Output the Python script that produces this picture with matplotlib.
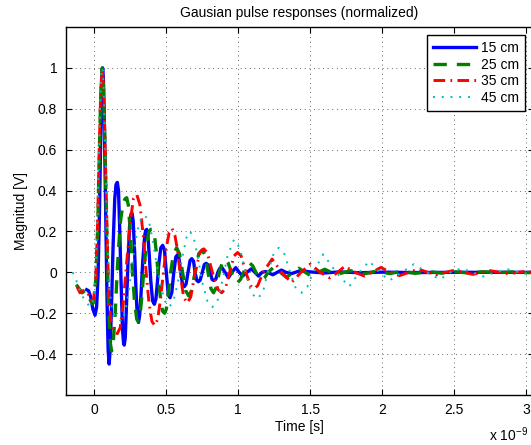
import matplotlib
matplotlib.use("Agg")
import matplotlib.pyplot as plt

plt.rcParams['font.family'] = ['Liberation Sans', 'DejaVu Sans']
plt.rcParams['mathtext.fontset'] = 'custom'
plt.rcParams['mathtext.rm'] = 'Liberation Sans'

# ---- data (time in units of 1e-9 s, normalized magnitude) ----
t_15 = [-0.053, -0.04, -0.025, -0.01, 0.005, 0.016, 0.026, 0.036, 0.046, 0.053, 0.058, 0.063, 0.07, 0.079,
        0.088, 0.096, 0.103, 0.11, 0.12, 0.13, 0.142, 0.151, 0.16, 0.168, 0.177, 0.186, 0.196, 0.203, 0.208,
        0.215, 0.224, 0.234, 0.246, 0.255, 0.262, 0.27, 0.28, 0.289, 0.299, 0.307, 0.315, 0.325, 0.336, 0.35,
        0.357, 0.364, 0.372, 0.382, 0.392, 0.405, 0.417, 0.428, 0.438, 0.448, 0.462, 0.475, 0.487, 0.5, 0.514,
        0.526, 0.538, 0.552, 0.566, 0.577, 0.588, 0.6, 0.613, 0.625, 0.637, 0.651, 0.665, 0.677, 0.689, 0.7,
        0.712, 0.723, 0.735, 0.75, 0.764, 0.777, 0.79, 0.805, 0.818, 0.831, 0.844, 0.858, 0.872, 0.885, 0.908,
        0.931, 0.956, 0.982, 1.006, 1.03, 1.06, 1.09, 1.115, 1.14, 1.165, 1.19, 1.215, 1.24, 1.27, 1.3, 1.33,
        1.37, 1.43, 1.5, 1.6, 1.7, 1.85, 2.0, 2.2, 2.5, 3.05]
v_15 = [-0.085, -0.09, -0.12, -0.18, -0.21, -0.17, -0.02, 0.3, 0.72, 0.95, 1.0, 0.95, 0.72, 0.3,
        -0.12, -0.38, -0.449, -0.38, -0.15, 0.12, 0.36, 0.43, 0.44, 0.4, 0.2, -0.05, -0.28, -0.345, -0.356,
        -0.32, -0.15, 0.05, 0.24, 0.285, 0.29, 0.25, 0.1, -0.08, -0.22, -0.245, -0.21, -0.1, 0.05, 0.18,
        0.205, 0.21, 0.18, 0.08, -0.04, -0.14, -0.156, -0.13, -0.05, 0.04, 0.12, 0.132, 0.11, 0.0, -0.11,
        -0.124, -0.1, 0.0, 0.075, 0.085, 0.07, 0.0, -0.06, -0.07, -0.058, 0.0, 0.058, 0.067, 0.055, 0.0,
        -0.04, -0.046, -0.038, 0.0, 0.038, 0.044, 0.036, 0.0, -0.035, -0.04, -0.033, 0.0, 0.02, 0.025, 0.0,
        -0.026, 0.0, 0.023, 0.0, -0.018, 0.0, 0.017, 0.0, -0.018, 0.0, 0.004, -0.004, -0.012, 0.0, 0.011, 0.0,
        -0.006, 0.008, 0.002, -0.003, 0.002, -0.002, 0.001, -0.001, 0.0, 0.0]

t_25 = [-0.125, -0.105, -0.085, -0.065, -0.045, -0.025, -0.012, 0.0, 0.012, 0.025, 0.037, 0.047, 0.055, 0.063,
        0.073, 0.085, 0.097, 0.11, 0.12, 0.13, 0.145, 0.16, 0.18, 0.2, 0.214, 0.225, 0.236, 0.25, 0.265, 0.28,
        0.295, 0.305, 0.316, 0.33, 0.345, 0.362, 0.38, 0.392, 0.405, 0.418, 0.432, 0.446, 0.46, 0.474, 0.488,
        0.5, 0.514, 0.53, 0.55, 0.572, 0.592, 0.613, 0.635, 0.655, 0.675, 0.7, 0.725, 0.75, 0.77, 0.79, 0.81,
        0.828, 0.846, 0.868, 0.89, 0.91, 0.93, 0.952, 0.975, 0.995, 1.015, 1.037, 1.06, 1.08, 1.1, 1.122, 1.145,
        1.165, 1.185, 1.207, 1.25, 1.292, 1.335, 1.378, 1.42, 1.465, 1.51, 1.555, 1.6, 1.645, 1.69, 1.735, 1.78,
        1.87, 1.96, 2.05, 2.14, 2.23, 2.32, 2.41, 2.5, 2.6, 2.7, 2.8, 2.9, 3.0, 3.05]
v_25 = [-0.06, -0.08, -0.1, -0.09, -0.11, -0.14, -0.155, -0.13, -0.02, 0.25, 0.65, 0.92, 1.0, 0.92,
        0.65, 0.25, -0.12, -0.34, -0.385, -0.36, -0.2, 0.02, 0.24, 0.34, 0.36, 0.365, 0.33, 0.2, 0.0, -0.15,
        -0.23, -0.24, -0.22, -0.12, 0.02, 0.14, 0.2, 0.21, 0.21, 0.18, 0.09, -0.03, -0.13, -0.19, -0.2,
        -0.18, -0.1, 0.0, 0.09, 0.12, 0.09, 0.0, -0.09, -0.115, -0.09, 0.0, 0.09, 0.11, 0.08, 0.0, -0.08,
        -0.1, -0.075, 0.0, 0.05, 0.063, 0.045, 0.0, -0.04, -0.05, -0.035, 0.0, 0.035, 0.045, 0.032, 0.0, -0.027,
        -0.035, -0.024, 0.0, 0.028, 0.0, -0.025, 0.0, 0.02, 0.0, -0.02, 0.0, 0.015, 0.0, -0.01, 0.0, 0.008,
        -0.008, 0.006, -0.006, 0.005, -0.005, 0.004, -0.004, 0.003, -0.003, 0.003, -0.002, 0.002, -0.002, 0.0]

t_35 = [-0.12, -0.1, -0.08, -0.06, -0.04, -0.02, -0.005, 0.01, 0.022, 0.034, 0.045, 0.055, 0.065, 0.076,
        0.088, 0.1, 0.115, 0.135, 0.16, 0.18, 0.2, 0.225, 0.25, 0.272, 0.295, 0.317, 0.34, 0.36, 0.38, 0.4,
        0.42, 0.44, 0.46, 0.48, 0.5, 0.52, 0.54, 0.56, 0.58, 0.595, 0.62, 0.645, 0.67, 0.7, 0.735, 0.76, 0.785,
        0.82, 0.86, 0.885, 0.91, 0.94, 0.97, 0.995, 1.02, 1.052, 1.085, 1.11, 1.135, 1.172, 1.235, 1.3, 1.37,
        1.435, 1.5, 1.57, 1.635, 1.69, 1.74, 1.81, 1.875, 1.93, 1.99, 2.055, 2.12, 2.185, 2.25, 2.315, 2.38,
        2.44, 2.5, 2.565, 2.63, 2.69, 2.75, 2.815, 2.88, 2.94, 3.0, 3.05]
v_35 = [-0.07, -0.1, -0.09, -0.09, -0.11, -0.14, -0.13, -0.03, 0.22, 0.6, 0.9, 1.0, 0.9, 0.6,
        0.22, -0.1, -0.24, -0.29, -0.3, -0.27, -0.16, 0.05, 0.25, 0.36, 0.38, 0.33, 0.18, 0.0, -0.15, -0.24,
        -0.26, -0.23, -0.13, 0.0, 0.12, 0.195, 0.215, 0.18, 0.1, 0.0, -0.12, -0.15, -0.12, 0.0, 0.1, 0.115, 0.095,
        0.0, -0.085, -0.1, -0.08, 0.0, 0.08, 0.097, 0.08, 0.0, -0.065, -0.08, -0.065, 0.0, 0.065, 0.0, -0.05,
        0.0, 0.04, 0.0, -0.027, 0.0, 0.03, 0.0, -0.018, 0.0, 0.024, 0.0, -0.016, 0.0, 0.016, 0.0, -0.012,
        0.0, 0.01, 0.0, -0.01, 0.0, 0.008, 0.0, -0.008, 0.0, 0.005, 0.0]

t_45 = [-0.15, -0.13, -0.11, -0.09, -0.06, -0.035, -0.015, 0.0, 0.015, 0.028, 0.04, 0.05, 0.056, 0.064,
        0.076, 0.09, 0.105, 0.125, 0.15, 0.19, 0.215, 0.24, 0.265, 0.29, 0.315, 0.35, 0.38, 0.405, 0.43, 0.46,
        0.49, 0.52, 0.55, 0.58, 0.61, 0.64, 0.665, 0.69, 0.72, 0.75, 0.785, 0.82, 0.855, 0.89, 0.925, 0.97,
        1.01, 1.05, 1.09, 1.13, 1.17, 1.205, 1.245, 1.28, 1.32, 1.36, 1.4, 1.44, 1.48, 1.52, 1.59, 1.68, 1.77,
        1.84, 1.91, 1.98, 2.05, 2.135, 2.22, 2.31, 2.4, 2.475, 2.55, 2.625, 2.7, 2.785, 2.87, 2.95, 3.03, 3.05]
v_45 = [0.0, -0.03, -0.07, -0.11, -0.14, -0.165, -0.16, -0.1, 0.1, 0.45, 0.8, 0.97, 1.0, 0.93,
        0.6, 0.2, -0.08, -0.19, -0.22, -0.24, -0.19, -0.09, 0.05, 0.17, 0.25, 0.28, 0.25, 0.16, 0.05, -0.06,
        -0.14, -0.17, -0.14, -0.05, 0.07, 0.17, 0.2, 0.17, 0.07, -0.05, -0.14, -0.17, -0.14, -0.04, 0.08, 0.16,
        0.12, 0.0, -0.1, -0.13, -0.1, 0.0, 0.09, 0.12, 0.09, 0.0, -0.08, -0.1, -0.07, 0.0, 0.088, 0.0, -0.07,
        0.0, 0.055, 0.0, -0.04, 0.0, 0.04, 0.0, -0.035, 0.0, 0.02, 0.0, -0.02, 0.0, 0.015, 0.0, -0.01, -0.008]

labels = ['15 cm', '25 cm', '35 cm', '45 cm']
x_ticks = [0, 0.5, 1, 1.5, 2, 2.5, 3]
x_ticklabels = ['0', '0.5', '1', '1.5', '2', '2.5', '3']
y_ticks = [-0.4, -0.2, 0, 0.2, 0.4, 0.6, 0.8, 1]
y_ticklabels = ['\u22120.4', '\u22120.2', '0', '0.2', '0.4', '0.6', '0.8', '1']

# ---- figure ----
fig = plt.figure(figsize=(5.31, 4.45), dpi=100)
ax = fig.add_axes([65.5 / 531, 1 - 395 / 445, (533.5 - 65.5) / 531, (395 - 27) / 445])

ax.plot(t_15, v_15, color='#0000ff', lw=2.4, ls='-', label=labels[0])
ax.plot(t_25, v_25, color='#008000', lw=2.4, ls=(0, (4.0, 3.0)), label=labels[1])
ax.plot(t_35, v_35, color='#ff0000', lw=2.1, ls=(0, (4.0, 1.8, 0.6, 1.8)), label=labels[2])
ax.plot(t_45, v_45, color='#00bfbf', lw=1.4, ls=(0, (1.0, 3.5)), label=labels[3])

ax.set_xlim(-0.2, 3.05)
ax.set_ylim(-0.6, 1.2)
ax.set_xticks(x_ticks)
ax.set_xticklabels(x_ticklabels)
ax.set_yticks(y_ticks)
ax.set_yticklabels(y_ticklabels)
ax.tick_params(direction='in', length=4, width=0.8, top=True, right=True, labelsize=10, pad=6)
ax.grid(True, color='0.2', lw=0.6, ls=(0, (1, 4.5)))
for s in ax.spines.values():
    s.set_linewidth(1.0)
    s.set_color('black')

ax.set_title('Gausian pulse responses (normalized)', fontsize=10, pad=7)
ax.set_xlabel('Time [s]', fontsize=10, labelpad=2)
ax.set_ylabel('Magnitud [V]', fontsize=10, labelpad=1)

fig.text(489 / 531, 4 / 445, 'x 10$^{\\mathregular{-9}}$', fontsize=10, ha='left', va='baseline')

leg = ax.legend(loc='upper right', bbox_to_anchor=(525 / 531, 1 - 35 / 445),
                bbox_transform=fig.transFigure, borderaxespad=0, fontsize=10,
                handlelength=3.1, handletextpad=0.3, borderpad=0.45, labelspacing=0.18,
                fancybox=False, framealpha=1, edgecolor='black')
leg.get_frame().set_linewidth(1.0)

fig.savefig('out.png', dpi=100)
